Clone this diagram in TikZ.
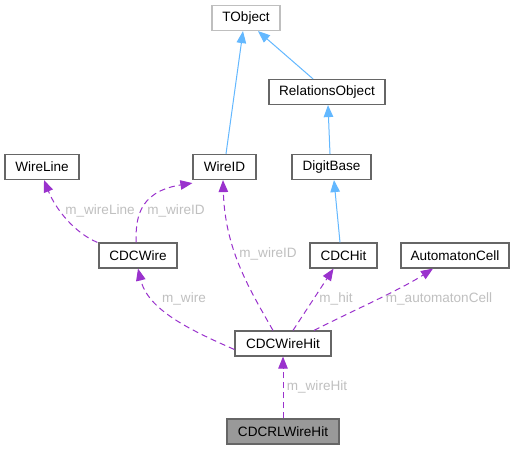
\documentclass[tikz,border=0pt]{standalone}
\usepackage{fontspec}
\setmainfont{Liberation Sans}
\usetikzlibrary{arrows.meta}
\definecolor{nodeborder}{HTML}{666666}
\definecolor{lightborder}{HTML}{BFBFBF}
\definecolor{inhcol}{HTML}{63B8FF}
\definecolor{usecol}{HTML}{9A32CD}
\definecolor{labcol}{HTML}{C0C0C0}
\definecolor{curfill}{HTML}{999999}
\tikzset{
  cls/.style={draw=nodeborder, fill=white, line width=1.2bp, minimum height=25bp, inner sep=0pt, font=\fontsize{13.6}{15}\selectfont, text=black},
  cur/.style={cls, fill=curfill},
  ext/.style={cls, draw=lightborder},
  inh/.style={draw=inhcol, line width=1bp, -{Triangle[length=12bp,width=9.5bp]}},
  use/.style={draw=usecol, line width=1bp, dash pattern=on 6bp off 4bp, -{Triangle[length=12bp,width=9.5bp]}},
  lab/.style={text=labcol, font=\fontsize{13.6}{15}\selectfont, inner sep=0pt}
}
\begin{document}
\begin{tikzpicture}[x=1bp,y=-1bp]
\useasboundingbox (0,0) rectangle (515,449);
\fill[white] (0,0) rectangle (515,449);
% nodes
\node[ext, minimum width=68bp] (tobject) at (246,18) {TObject};
\node[cls, minimum width=116bp] (relobj) at (327,92) {RelationsObject};
\node[cls, minimum width=74bp] (wireline) at (42,167) {WireLine};
\node[cls, minimum width=63bp] (wireid) at (224.5,167) {WireID};
\node[cls, minimum width=79bp] (digitbase) at (331.5,167) {DigitBase};
\node[cls, minimum width=78bp] (cdcwire) at (138,255.5) {CDCWire};
\node[cls, minimum width=67bp] (cdchit) at (343.5,255.5) {CDCHit};
\node[cls, minimum width=108bp] (automaton) at (455,255.5) {AutomatonCell};
\node[cls, minimum width=96bp] (cdcwirehit) at (283,343.5) {CDCWireHit};
\node[cur, minimum width=112bp] (rlwirehit) at (283,431.5) {CDCRLWireHit};
% inheritance
\draw[inh] ([xshift=1.5bp]wireid.north) -- ([xshift=-3bp]tobject.south);
\draw[inh] ([xshift=-14bp]relobj.north) -- ([xshift=12bp]tobject.south);
\draw[inh] ([xshift=-1.5bp]digitbase.north) -- ([xshift=1bp]relobj.south);
\draw[inh] ([xshift=-3.5bp]cdchit.north) -- ([xshift=2.5bp]digitbase.south);
% usage
\draw[use] ([xshift=-1bp]cdcwire.north west) .. controls (75,233) and (56,210) .. ([xshift=2bp]wireline.south);
\draw[use] ([xshift=-2bp]cdcwire.north) .. controls (136,222) and (136,192) .. ([yshift=-3bp]wireid.south west);
\draw[use] ([xshift=-10bp]cdcwirehit.north) .. controls (250,290) and (225,250) .. ([xshift=-1.5bp]wireid.south);
\draw[use] ([yshift=-6bp]cdcwirehit.west) .. controls (190,330) and (148,310) .. ([xshift=0bp]cdcwire.south);
\draw[use] ([xshift=10bp]cdcwirehit.north) -- ([xshift=-10bp]cdchit.south);
\draw[use] ([xshift=31bp]cdcwirehit.north) .. controls (350,312) and (400,290) .. ([xshift=-22bp]automaton.south);
\draw[use] (rlwirehit.north) -- (cdcwirehit.south);
% labels
\node[lab] (l1) at (100,211) {m\_wireLine};
\node[lab] (l2) at (176,211) {m\_wireID};
\node[lab] (l3) at (268,254) {m\_wireID};
\node[lab] (l4) at (184,299) {m\_wire};
\node[lab] (l5) at (336,299) {m\_hit};
\node[lab] (l6) at (439,299) {m\_automatonCell};
\node[lab] (l7) at (317,387) {m\_wireHit};
\end{tikzpicture}
\end{document}
